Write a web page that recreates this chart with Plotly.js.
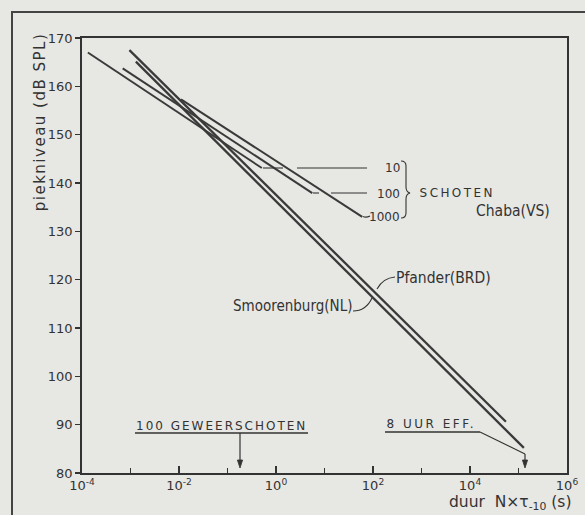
<!DOCTYPE html>
<html>
<head>
<meta charset="utf-8">
<script src="https://cdn.plot.ly/plotly-3.0.1.min.js"></script>
<style>
  html, body { margin: 0; padding: 0; background: #e7e7e4; }
  #chart { width: 585px; height: 515px; }
</style>
</head>
<body>
<div id="chart"></div>
<script>
// ---- data ----
const pfanderX = [9.5e-4, 5.5e4];
const pfanderY = [167.5, 90.6];
const smoorenburgX = [1.29e-3, 1.29e5];
const smoorenburgY = [165.1, 85.2];
const chaba10X = [1.32e-4, 0.51];
const chaba10Y = [167.0, 143.1];
const chaba100X = [6.9e-4, 5.6];
const chaba100Y = [163.7, 137.9];
const chaba1000X = [1.1e-2, 60];
const chaba1000Y = [157.3, 133.0];

const xTickVals = [1e-4, 1e-2, 1, 1e2, 1e4, 1e6];
const xTickText = ['10<sup>-4</sup>', '10<sup>-2</sup>', '10<sup>0</sup>', '10<sup>2</sup>', '10<sup>4</sup>', '10<sup>6</sup>'];
const xMinorVals = [1e-3, 1e-1, 10, 1e3, 1e5];

// ---- layout helpers ----
const W = 585, H = 515, L = 82, R = 18, T = 38, B = 42;
const PW = W - L - R, PH = H - T - B;
function px(x) { return (x - L) / PW; }
function py(y) { return (H - B - y) / PH; }

const ink = '#333333';
const lineInk = '#3a3a3a';
const baseFont = 'DejaVu Sans, Liberation Sans, sans-serif';
const condFont = 'DejaVu Sans Condensed, DejaVu Sans, sans-serif';

function tr(x, y, w) {
  return { x: x, y: y, type: 'scatter', mode: 'lines',
           line: { color: lineInk, width: w }, hoverinfo: 'skip', showlegend: false };
}
const traces = [
  tr(pfanderX, pfanderY, 2.3),
  tr(smoorenburgX, smoorenburgY, 2.3),
  tr(chaba10X, chaba10Y, 2.0),
  tr(chaba100X, chaba100Y, 2.0),
  tr(chaba1000X, chaba1000Y, 2.0)
];

function seg(x0, y0, x1, y1, w) {
  return { type: 'line', xref: 'paper', yref: 'paper',
           x0: px(x0), y0: py(y0), x1: px(x1), y1: py(y1),
           line: { color: ink, width: w || 1.2 } };
}
function pathShape(pts, w, fill) {
  let d = '';
  pts.forEach((p, i) => {
    if (p[0] === 'Q') d += ' Q ' + px(p[1]) + ',' + py(p[2]) + ' ' + px(p[3]) + ',' + py(p[4]);
    else if (p[0] === 'Z') d += ' Z';
    else d += (i === 0 ? 'M ' : ' L ') + px(p[0]) + ',' + py(p[1]);
  });
  const s = { type: 'path', xref: 'paper', yref: 'paper', path: d,
              line: { color: ink, width: w || 1.2 } };
  if (fill) s.fillcolor = fill;
  return s;
}
function arrowShapes(x, yTip, yTail) {
  return [
    seg(x, yTail, x, yTip - 4, 1.2),
    pathShape([[x - 2.6, yTip - 8], [x + 2.6, yTip - 8], [x, yTip], ['Z']], 0.8, ink)
  ];
}

const shapes = [
  // outer page frame
  { type: 'rect', xref: 'paper', yref: 'paper',
    x0: px(12), y0: py(530), x1: px(600), y1: py(12),
    line: { color: '#444', width: 2 } },
  // leader "10"
  seg(263, 168, 283, 168, 1.1),
  seg(297, 168, 367, 168, 1.1),
  // leader "100"
  seg(313, 193, 319, 193, 1.1),
  seg(331, 193, 367, 193, 1.1),
  // leader "1000"
  pathShape([[363, 216.5], ['Q', 366, 218, 370, 216]], 1.1),
  // brace
  pathShape([[401, 161], ['Q', 406, 161, 406, 166], [406, 187], ['Q', 406, 192, 410, 193],
             ['Q', 406, 194, 406, 199], [406, 213], ['Q', 406, 218, 401, 218]], 1.1),
  // Pfander leader
  pathShape([[395, 277], ['Q', 383, 278, 377, 289]], 1.1),
  // Smoorenburg leader
  pathShape([[353, 311], ['Q', 366, 311, 372, 298]], 1.1),
  // 100 GEWEERSCHOTEN underline
  seg(135, 433, 308, 433, 1.4),
  // 8 UUR EFF underline and slanted leader
  seg(385, 432, 480, 432, 1.4),
  seg(480, 432, 525, 454, 1.1)
].concat(arrowShapes(240, 468, 433), arrowShapes(525, 468, 454));

function ann(text, x, y, size, font, extra) {
  return Object.assign({ text: text, xref: 'paper', yref: 'paper', x: px(x), y: py(y),
    showarrow: false, xanchor: 'center', yanchor: 'middle',
    font: { family: font || baseFont, size: size, color: ink } }, extra || {});
}

const annotations = [
  ann('piekniveau (dB SPL)', 40, 122, 15, baseFont, { textangle: -90 }),
  ann('duur  N×τ<sub>-10</sub> (s)', 573, 503, 15.5, baseFont, { xanchor: 'right' }),
  ann('10', 402, 168, 12, baseFont, { xanchor: 'right' }),
  ann('100', 402, 193.5, 12, baseFont, { xanchor: 'right' }),
  ann('1000', 402, 216.5, 12, baseFont, { xanchor: 'right' }),
  ann('SCHOTEN', 456.5, 193, 12, baseFont),
  ann('Chaba(VS)', 512.5, 211, 15.5, condFont),
  ann('Pfander(BRD)', 443, 278, 15.5, condFont),
  ann('Smoorenburg(NL)', 292, 305.5, 15, condFont),
  ann('100 GEWEERSCHOTEN', 221.5, 426, 12, baseFont),
  ann('8 UUR EFF.', 431, 424, 12, baseFont)
];

const layout = {
  width: W, height: H,
  margin: { l: L, r: R, t: T, b: B, pad: 0 },
  paper_bgcolor: '#e7e7e4',
  plot_bgcolor: '#e7e7e4',
  showlegend: false,
  hovermode: false,
  font: { family: baseFont, color: ink },
  xaxis: {
    type: 'log', range: [-4, 6], tickmode: 'array', tickvals: xTickVals, ticktext: xTickText,
    ticks: 'inside', ticklen: 7, tickwidth: 1.3, tickcolor: ink,
    minor: { tickmode: 'array', tickvals: xMinorVals, ticks: 'inside', ticklen: 5, tickwidth: 1.3, tickcolor: ink },
    showline: true, linecolor: ink, linewidth: 1.8, mirror: true,
    showgrid: false, zeroline: false,
    tickfont: { family: baseFont, size: 13, color: ink }
  },
  xaxis2: {
    type: 'log', range: [-4, 6], overlaying: 'x', side: 'top', dtick: 1,
    ticks: 'inside', ticklen: 5, tickwidth: 1.3, tickcolor: ink,
    showticklabels: false, showline: false, showgrid: false, zeroline: false
  },
  yaxis: {
    range: [80, 170], dtick: 10, ticks: 'outside', ticklen: 5, tickwidth: 1.3, tickcolor: ink,
    showline: true, linecolor: ink, linewidth: 1.8, mirror: true,
    showgrid: false, zeroline: false,
    tickfont: { family: baseFont, size: 13, color: ink }
  },
  yaxis2: {
    range: [80, 170], overlaying: 'y', side: 'right', dtick: 10,
    ticks: 'inside', ticklen: 5, tickwidth: 1.3, tickcolor: ink,
    showticklabels: false, showline: false, showgrid: false, zeroline: false
  },
  shapes: shapes,
  annotations: annotations
};

const spacing = {
  'piekniveau (dB SPL)': '1.5px',
  '100 GEWEERSCHOTEN': '2px',
  '8 UUR EFF.': '2.5px',
  'SCHOTEN': '2.4px'
};

Plotly.newPlot('chart', traces, layout, { displayModeBar: false, staticPlot: true }).then(function () {
  document.querySelectorAll('#chart .annotation-text').forEach(function (t) {
    const s = spacing[t.textContent];
    if (s) t.style.letterSpacing = s;
  });
});
</script>
</body>
</html>
